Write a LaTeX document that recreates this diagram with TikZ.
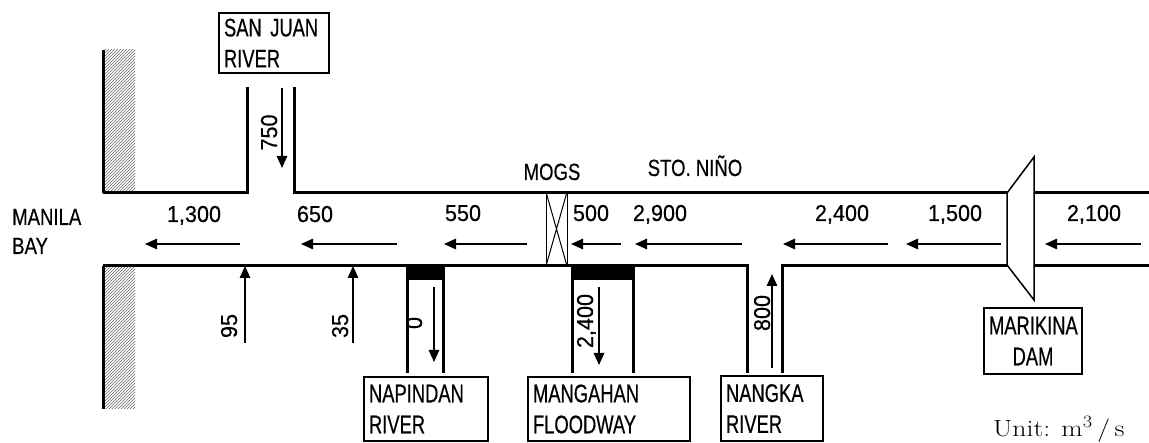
\documentclass[tikz,border=0pt]{standalone}
\usepackage{fontspec}
\newfontfamily\wordfont[FakeStretch=0.79,FakeBold=0.4]{Liberation Sans}
\newfontfamily\boxfont[FakeStretch=0.72,FakeBold=0.4]{Liberation Sans}
\newfontfamily\numfont[FakeStretch=0.94,FakeBold=0.4]{Liberation Sans}
\usetikzlibrary{arrows.meta,patterns}
\begin{document}
\begin{tikzpicture}[x=1pt,y=-1pt,
  bank/.style={line width=3pt},
  thinl/.style={line width=1pt},
  rbox/.style={draw,line width=1.5pt,inner xsep=5pt,inner ysep=0pt,align=left,font=\boxfont\fontsize{25.5}{31}\selectfont},
  flow/.style={-{Triangle[length=12pt,width=10.5pt]},line width=1.3pt},
  wlab/.style={font=\wordfont\fontsize{23.5}{29}\selectfont,inner sep=0pt},
  nlab/.style={font=\numfont\fontsize{23}{28}\selectfont,inner sep=0pt},
  hatch/.style={pattern=north east lines,pattern color=black!60}
]
\useasboundingbox (0,0) rectangle (1149,443);

% hatched sea walls
\fill[hatch] (104,50) rectangle (135,193);
\fill[hatch] (104,266) rectangle (135,409);
\draw[bank] (103,50) -- (103,193);
\draw[bank] (103,266) -- (103,409);

% top bank with San Juan inlet
\draw[bank] (103,193) -- (247,193) -- (247,87);
\draw[bank] (294,87) -- (294,193) -- (1007,193);
\draw[bank] (1034,193) -- (1149,193);

% bottom bank with Nangka inlet
\draw[bank] (103,266) -- (747,266) -- (747,373);
\draw[bank] (782,373) -- (782,266) -- (1007,266);
\draw[bank] (1034,266) -- (1149,266);

% Napindan channel
\fill (406,266) rectangle (444,280);
\draw[bank] (407,266) -- (407,373);
\draw[bank] (443,266) -- (443,373);
% Mangahan channel
\fill (571,266) rectangle (634,280);
\draw[bank] (572,266) -- (572,373);
\draw[bank] (633,266) -- (633,373);

% MOGS gate
\draw[thinl] (546,192) rectangle (567,266);
\draw[thinl] (546,192) -- (567,266) (567,192) -- (546,266);

% Marikina dam
\draw[line width=1.5pt] (1007,193) -- (1034,157) -- (1034,300) -- (1007,265) -- cycle;

% boxes
\node[rbox,text width=100pt,minimum height=60pt] (sanjuan) at (274,43) {SAN JUAN\\RIVER};
\node[rbox,text width=114pt,minimum height=64pt] (napindan) at (426,409) {NAPINDAN\\RIVER};
\node[rbox,text width=152pt,minimum height=64pt] (mangahan) at (609,409) {MANGAHAN\\FLOODWAY};
\node[rbox,text width=92pt,minimum height=65pt] (nangka) at (772,408.5) {NANGKA\\RIVER};
\node[rbox,text width=88pt,minimum height=66pt,align=center] (marikina) at (1033,341) {MARIKINA\\DAM};

% place labels
\node[wlab,anchor=base west] (manila) at (12,225) {MANILA};
\node[wlab,anchor=base west] (bay) at (12,254) {BAY};
\node[wlab,anchor=base] (mogs) at (552,180) {MOGS};
\node[wlab,anchor=base] (stonino) at (695,176) {STO. NIÑO};

% flow values in main channel
\node[nlab,anchor=base] (q1) at (194,222) {1,300};
\node[nlab,anchor=base] (q2) at (315,222) {650};
\node[nlab,anchor=base] (q3) at (463,221) {550};
\node[nlab,anchor=base] (q4) at (591,221) {500};
\node[nlab,anchor=base] (q5) at (660,221) {2,900};
\node[nlab,anchor=base] (q6) at (842,221) {2,400};
\node[nlab,anchor=base] (q7) at (955,221) {1,500};
\node[nlab,anchor=base] (q8) at (1094,221) {2,100};

% tributary values
\node[nlab,anchor=base,rotate=90] (v750) at (277,132.5) {750};
\node[nlab,anchor=base,rotate=90] (v95) at (237,326) {95};
\node[nlab,anchor=base,rotate=90] (v35) at (348,326) {35};
\node[nlab,anchor=base,rotate=90] (v0) at (422,323) {0};
\node[nlab,anchor=base,rotate=90] (v2400) at (593,321) {2,400};
\node[nlab,anchor=base,rotate=90] (v800) at (770,313) {800};

% arrow end points
\coordinate (a1s) at (240,244); \coordinate (a1e) at (145,244);
\coordinate (a2s) at (397,244); \coordinate (a2e) at (301,244);
\coordinate (a3s) at (527,244); \coordinate (a3e) at (444,244);
\coordinate (a4s) at (621,244); \coordinate (a4e) at (571,244);
\coordinate (a5s) at (742,244); \coordinate (a5e) at (635,244);
\coordinate (a6s) at (888,244); \coordinate (a6e) at (783,244);
\coordinate (a7s) at (1001,244); \coordinate (a7e) at (906,244);
\coordinate (a8s) at (1141,244); \coordinate (a8e) at (1045,244);
\coordinate (sjs) at (282,88); \coordinate (sje) at (282,168);
\coordinate (b95s) at (245,343); \coordinate (b95e) at (245,266);
\coordinate (b35s) at (353,343); \coordinate (b35e) at (353,266);
\coordinate (nps) at (434,287); \coordinate (npe) at (434,362);
\coordinate (mgs) at (599,287); \coordinate (mge) at (599,365);
\coordinate (nks) at (772,368); \coordinate (nke) at (772,274);

\foreach \a in {a1,a2,a3,a4,a5,a6,a7,a8,b95,b35}
  \draw[flow] (\a s) -- (\a e);
\draw[flow] (sjs) -- (sje);
\draw[flow] (nps) -- (npe);
\draw[flow] (mgs) -- (mge);
\draw[flow] (nks) -- (nke);

\node[anchor=base west,inner sep=0pt,font=\fontsize{23.5}{28}\selectfont] (unit) at (993,437) {\scalebox{1.18}[1]{Unit: m$^{3}$\,/\,s}};
\end{tikzpicture}
\end{document}
